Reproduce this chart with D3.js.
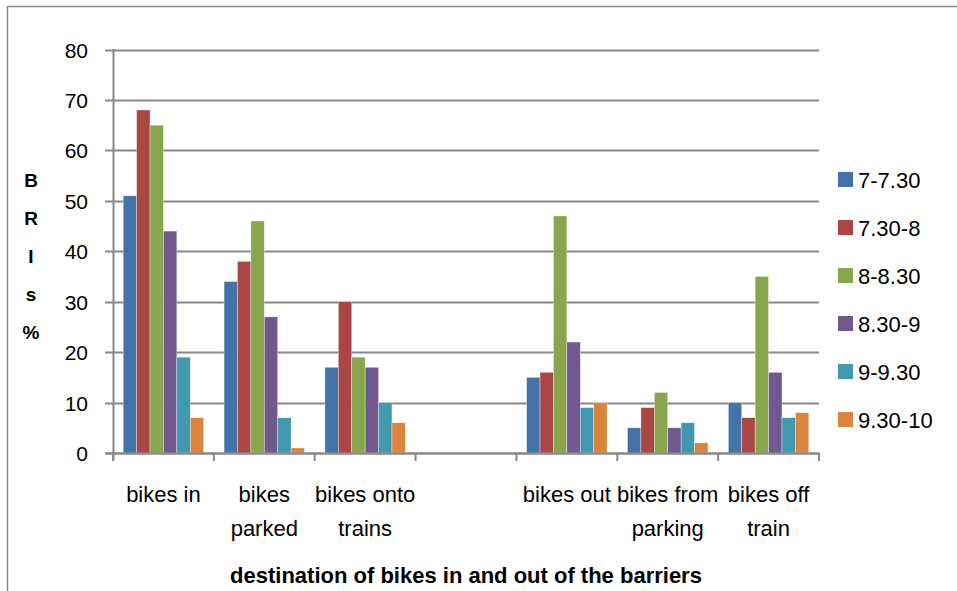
<!DOCTYPE html>
<html>
<head>
<meta charset="utf-8">
<script src="https://cdn.jsdelivr.net/npm/d3@7"></script>
<style>
  body { margin: 0; background: #fff; }
  text { font-family: "Liberation Sans", sans-serif; fill: #000; }
</style>
</head>
<body>
<svg id="chart" width="957" height="591"></svg>
<script>
var categories = ["bikes in", "bikes parked", "bikes onto trains", "", "bikes out", "bikes from parking", "bikes off train"];
var categoryLines = [["bikes in"], ["bikes", "parked"], ["bikes onto", "trains"], [""], ["bikes out"], ["bikes from", "parking"], ["bikes off", "train"]];
var seriesNames = ["7-7.30", "7.30-8", "8-8.30", "8.30-9", "9-9.30", "9.30-10"];
var colors = ["#4572a7", "#aa4643", "#89a54e", "#71588f", "#4198af", "#db843d"];
var s1 = [51, 34, 17, null, 15, 5, 10];
var s2 = [68, 38, 30, null, 16, 9, 7];
var s3 = [65, 46, 19, null, 47, 12, 35];
var s4 = [44, 27, 17, null, 22, 5, 16];
var s5 = [19, 7, 10, null, 9, 6, 7];
var s6 = [7, 1, 6, null, 10, 2, 8];
var yTicks = [0, 10, 20, 30, 40, 50, 60, 70, 80];
var allSeries = [s1, s2, s3, s4, s5, s6];

var svg = d3.select("#chart");

// outer frame (only top and left edge visible)
svg.append("line").attr("x1", 7).attr("x2", 957).attr("y1", 6.5).attr("y2", 6.5).attr("stroke", "#888").attr("stroke-width", 1.5);
svg.append("line").attr("x1", 7.5).attr("x2", 7.5).attr("y1", 6).attr("y2", 591).attr("stroke", "#888").attr("stroke-width", 1.5);

var x = d3.scaleBand().domain(d3.range(categories.length)).range([113, 819]).paddingInner(0).paddingOuter(0);
var x1 = d3.scaleBand().domain(d3.range(seriesNames.length)).range([0, x.bandwidth()]).paddingOuter(0.76).paddingInner(0);
var y = d3.scaleLinear().domain([0, 80]).range([453, 49.5]);

// gridlines
svg.append("g").selectAll("line").data(yTicks).enter().append("line")
    .attr("x1", 105).attr("x2", 819)
    .attr("y1", function (d) { return Math.round(y(d)) + 0.5; })
    .attr("y2", function (d) { return Math.round(y(d)) + 0.5; })
    .attr("stroke", "#888").attr("stroke-width", 2);

// y tick labels
svg.append("g").selectAll("text").data(yTicks).enter().append("text")
    .attr("x", 88).attr("y", function (d) { return y(d) + 8; })
    .attr("text-anchor", "end").style("font-size", "21px")
    .text(function (d) { return d; });

// bars
var groups = svg.append("g").selectAll("g").data(allSeries).enter().append("g")
    .attr("fill", function (d, i) { return colors[i]; });
groups.each(function (series, si) {
    var pts = series.map(function (v, ci) { return { c: ci, v: v }; })
        .filter(function (p) { return p.v != null; });
    d3.select(this).selectAll("rect").data(pts).enter().append("rect")
        .attr("x", function (p) { return x(p.c) + x1(si); })
        .attr("width", x1.bandwidth())
        .attr("y", function (p) { return y(p.v); })
        .attr("height", function (p) { return y(0) - y(p.v); })
        .attr("stroke", "rgba(255,255,255,0.6)").attr("stroke-width", 0.6);
});

// axes lines
svg.append("line").attr("x1", 113.5).attr("x2", 113.5).attr("y1", 49).attr("y2", 460).attr("stroke", "#888").attr("stroke-width", 2);
svg.append("line").attr("x1", 105).attr("x2", 820).attr("y1", 453.5).attr("y2", 453.5).attr("stroke", "#888").attr("stroke-width", 2);
svg.append("g").selectAll("line").data(d3.range(categories.length + 1)).enter().append("line")
    .attr("x1", function (d) { return 113 + d * x.bandwidth(); })
    .attr("x2", function (d) { return 113 + d * x.bandwidth(); })
    .attr("y1", 453).attr("y2", 461)
    .attr("stroke", "#888").attr("stroke-width", 2);

// category labels
var cl = svg.append("g").selectAll("text").data(categoryLines).enter().append("text")
    .attr("text-anchor", "middle").style("font-size", "22px")
    .attr("transform", function (d, i) { return "translate(" + (x(i) + x.bandwidth() / 2) + ",0)"; });
cl.selectAll("tspan").data(function (d) { return d; }).enter().append("tspan")
    .attr("x", 0).attr("y", function (d, i) { return 502 + i * 34; })
    .text(function (d) { return d; });

// y axis title, one letter per line
var yTitle = ["B", "R", "I", "s", "%"];
svg.append("g").selectAll("text").data(yTitle).enter().append("text")
    .attr("x", 31).attr("y", function (d, i) { return 187 + i * 38; })
    .attr("text-anchor", "middle").style("font-size", "19px").style("font-weight", "bold")
    .text(function (d) { return d; });

// x axis title
svg.append("text").attr("x", 466).attr("y", 583).attr("text-anchor", "middle")
    .style("font-size", "22px").style("font-weight", "bold")
    .text("destination of bikes in and out of the barriers");

// legend
var lg = svg.append("g").selectAll("g").data(seriesNames).enter().append("g")
    .attr("transform", function (d, i) { return "translate(838," + (172 + i * 48) + ")"; });
lg.append("rect").attr("width", 15).attr("height", 15).attr("fill", function (d, i) { return colors[i]; });
lg.append("text").attr("x", 20).attr("y", 15.5).style("font-size", "22px").text(function (d) { return d; });
</script>
</body>
</html>
